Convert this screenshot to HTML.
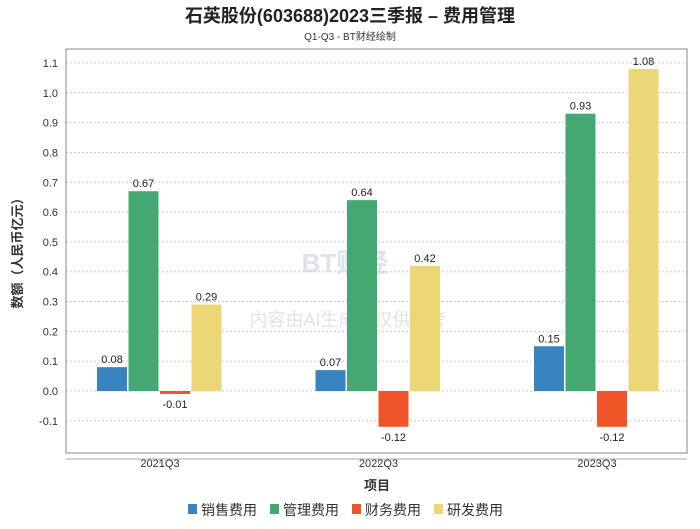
<!DOCTYPE html>
<html><head><meta charset="utf-8"><style>
body{margin:0;background:#fff;width:700px;height:524px;overflow:hidden}
svg text{font-family:"Liberation Sans","Noto Sans CJK SC",sans-serif}
</style></head><body>
<svg id="chart" width="700" height="524">
<text x="350" y="22" text-anchor="middle" font-size="18" font-weight="bold" fill="#222">石英股份(603688)2023三季报 – 费用管理</text>
<text x="350" y="40" text-anchor="middle" font-size="10" fill="#333">Q1-Q3 - BT财经绘制</text>
<text x="345" y="272" text-anchor="middle" font-size="26" font-weight="bold" fill="#dde3ec">BT财经</text>
<text x="348" y="326" text-anchor="middle" font-size="18" fill="#e2e2e2">内容由AI生成，仅供参考</text>
<g id="grid"></g>
<rect x="66" y="49" width="621" height="404" fill="none" stroke="#888"/>
<line x1="66" y1="459" x2="687" y2="459" stroke="#aaa"/>
<g id="bars"></g>
<text x="377" y="490" text-anchor="middle" font-size="13" font-weight="bold" fill="#333">项目</text>
<text transform="translate(22,250) rotate(-90)" text-anchor="middle" font-size="13" font-weight="bold" fill="#333">数额（人民币亿元）</text>
<g id="legend"></g>
</svg>
<script>
const categories=["2021Q3","2022Q3","2023Q3"];
const seriesNames=["销售费用","管理费用","财务费用","研发费用"];
const colors=["#3a83c1","#44a872","#ef5528","#ecd776"];
const sales=[0.08,0.07,0.15];
const admin=[0.67,0.64,0.93];
const finance=[-0.01,-0.12,-0.12];
const rnd=[0.29,0.42,1.08];
const yTicks=[-0.1,0,0.1,0.2,0.3,0.4,0.5,0.6,0.7,0.8,0.9,1.0,1.1];
const series=[sales,admin,finance,rnd];
const NS="http://www.w3.org/2000/svg";
function y(v){return 391-v*298.2;}
function xc(i){return 160+i*218.5;}
function mk(t,a,p){const e=document.createElementNS(NS,t);for(const k in a)e.setAttribute(k,a[k]);p.appendChild(e);return e;}
const grid=document.getElementById('grid'),bars=document.getElementById('bars'),leg=document.getElementById('legend');
yTicks.forEach(v=>{
 const l=mk('line',{x1:66,x2:687,y1:y(v),y2:y(v),stroke:'#ccc','stroke-dasharray':'2,2'},grid);
 
 
 const t=mk('text',{x:58,y:y(v)+4,'text-anchor':'end','font-size':11,fill:'#333'},grid);
 t.textContent=v===0?'0.0':v.toFixed(1);
 
 
});
categories.forEach((c,i)=>{
 const tk=mk('line',{x1:xc(i),x2:xc(i),y1:459,y2:464,stroke:'#aaa'},grid);
 
 
 const t=mk('text',{x:xc(i),y:467,'text-anchor':'middle','font-size':11,fill:'#333'},grid);
 t.textContent=c;
 
 
 series.forEach((s,j)=>{
  const v=s[i],bx=xc(i)-63+j*31.5;
  const top=Math.min(y(v),y(0)),h=Math.abs(y(v)-y(0));
  const r=mk('rect',{x:bx,y:top,width:30,height:Math.max(h,1),fill:colors[j]},bars);
  
  
  const lt=mk('text',{x:bx+15,y:v>=0?y(v)-4:y(v)+14,'text-anchor':'middle','font-size':11,fill:'#222'},bars);
  lt.textContent=v.toFixed(2);
  
  
 });
});
let lx=188;
seriesNames.forEach((n,j)=>{
 const r=mk('rect',{x:lx,y:504,width:9,height:10,fill:colors[j]},leg);
 
 
 const t=mk('text',{x:lx+13,y:515,'font-size':14,fill:'#333'},leg);
 t.textContent=n;
 
 
 lx+=82;
});
</script>
</body></html>
